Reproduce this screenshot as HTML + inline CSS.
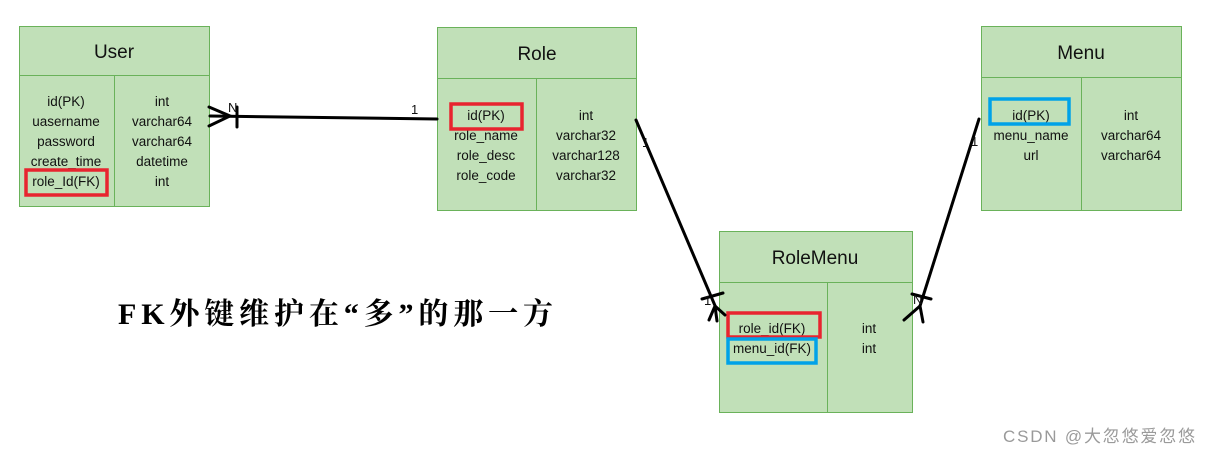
<!DOCTYPE html>
<html><head><meta charset="utf-8"><style>
html,body{margin:0;padding:0;background:#fff;width:1211px;height:453px;overflow:hidden}
svg{display:block}
text{font-family:"Liberation Sans","Noto Sans CJK SC",sans-serif;fill:#111}
.t{font-size:19px}
.f{font-size:13.5px}
</style></head><body>
<svg width="1211" height="453" xmlns="http://www.w3.org/2000/svg">
<g fill="#c1e0b8" stroke="#6ab25a" stroke-width="1">
<rect x="19.5" y="26.5" width="190" height="180"/><line x1="19" y1="75.5" x2="209" y2="75.5"/><line x1="114.5" y1="75" x2="114.5" y2="206"/>
<rect x="437.5" y="27.5" width="199" height="183"/><line x1="437" y1="78.5" x2="636" y2="78.5"/><line x1="536.5" y1="78" x2="536.5" y2="210"/>
<rect x="981.5" y="26.5" width="200" height="184"/><line x1="981" y1="77.5" x2="1181" y2="77.5"/><line x1="1081.5" y1="77" x2="1081.5" y2="210"/>
<rect x="719.5" y="231.5" width="193" height="181"/><line x1="719" y1="282.5" x2="912" y2="282.5"/><line x1="827.5" y1="282" x2="827.5" y2="412"/>
</g>
<g text-anchor="middle">
<text class="t" x="114" y="58">User</text>
<text class="t" x="537" y="60">Role</text>
<text class="t" x="1081" y="59">Menu</text>
<text class="t" x="815" y="264">RoleMenu</text>
<g class="f">
<text x="66" y="106">id(PK)</text><text x="66" y="126">uasername</text><text x="66" y="146">password</text><text x="66" y="166">create_time</text><text x="66" y="186">role_Id(FK)</text>
<text x="162" y="106">int</text><text x="162" y="126">varchar64</text><text x="162" y="146">varchar64</text><text x="162" y="166">datetime</text><text x="162" y="186">int</text>
<text x="486" y="120">id(PK)</text><text x="486" y="140">role_name</text><text x="486" y="160">role_desc</text><text x="486" y="180">role_code</text>
<text x="586" y="120">int</text><text x="586" y="140">varchar32</text><text x="586" y="160">varchar128</text><text x="586" y="180">varchar32</text>
<text x="1031" y="120">id(PK)</text><text x="1031" y="140">menu_name</text><text x="1031" y="160">url</text>
<text x="1131" y="120">int</text><text x="1131" y="140">varchar64</text><text x="1131" y="160">varchar64</text>
<text x="772" y="333">role_id(FK)</text><text x="772" y="353">menu_id(FK)</text>
<text x="869" y="333">int</text><text x="869" y="353">int</text>
</g></g>
<g fill="none" stroke-width="3.5">
<rect x="26" y="170" width="81" height="25" stroke="#e8242f"/>
<rect x="451" y="104" width="71" height="25" stroke="#e8242f"/>
<rect x="728" y="313" width="92" height="24" stroke="#e8242f"/>
<rect x="990" y="99" width="79" height="25" stroke="#00a2e8"/>
<rect x="728" y="339" width="88" height="24" stroke="#00a2e8"/>
</g>
<g stroke="#000" stroke-width="3" fill="none" stroke-linecap="round">
<line x1="210" y1="116" x2="437" y2="119"/>
<polyline points="209,107 230,116 209,126"/>
<line x1="237" y1="107" x2="237" y2="127"/>
<line x1="636" y1="120" x2="716" y2="308"/>
<polyline points="709,320 715,306 725,315"/>
<line x1="715" y1="306" x2="717" y2="321"/>
<line x1="702" y1="299" x2="723" y2="293"/>
<line x1="979" y1="119" x2="920" y2="306"/>
<polyline points="904,320 920,306 923,322"/>
<line x1="912" y1="294" x2="931" y2="299"/>
</g>
<g font-family="Liberation Serif,serif" font-size="13" fill="#222">
<text x="228" y="112">N</text><text x="411" y="114">1</text>
<text x="642" y="147">1</text><text x="704" y="305">1</text>
<text x="971" y="146">1</text><text x="913" y="304">N</text>
</g>
<text x="118" y="324" textLength="435" lengthAdjust="spacing" style="font-family:'Liberation Serif','Noto Serif CJK SC',serif;font-weight:bold;font-size:30px;fill:#000">FK外键维护在“多”的那一方</text>
<text x="1003" y="442" textLength="192" lengthAdjust="spacing" style="font-size:17px;fill:#9a9a9a">CSDN @大忽悠爱忽悠</text>
</svg>
</body></html>
